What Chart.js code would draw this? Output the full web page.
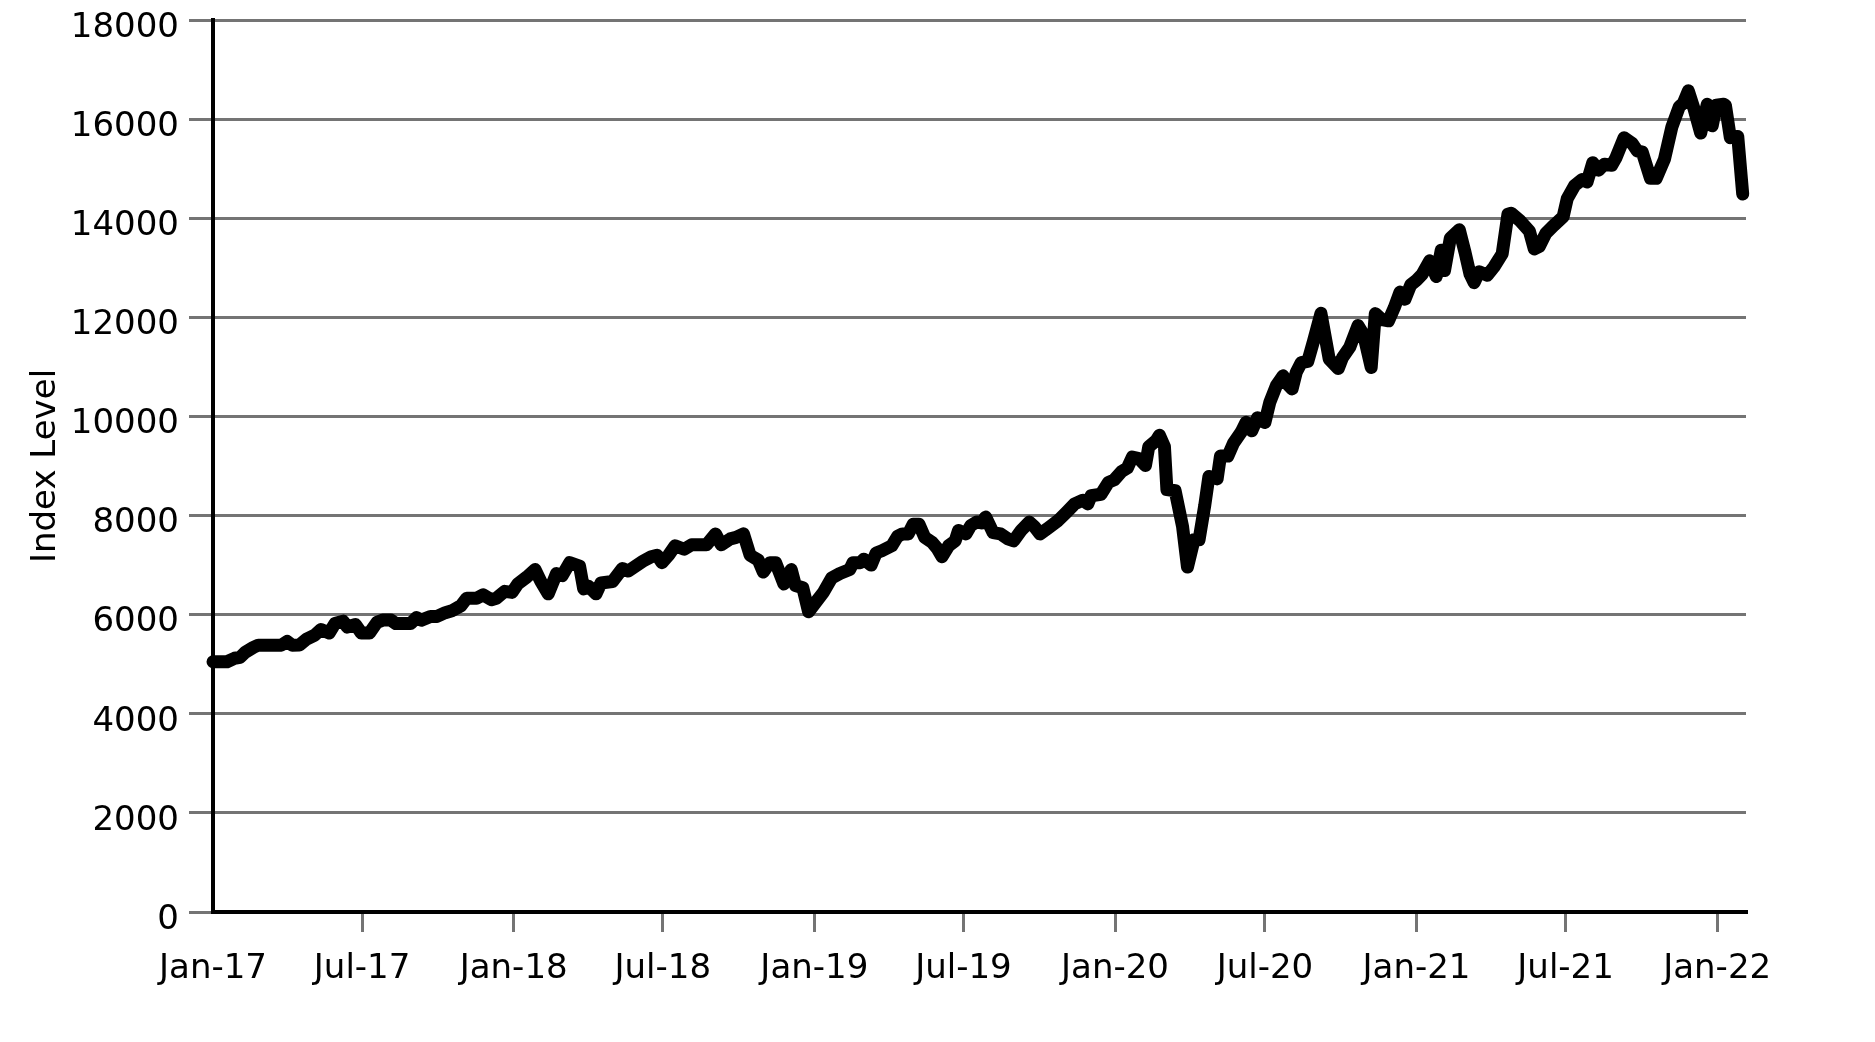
<!DOCTYPE html>
<html>
<head>
<meta charset="utf-8">
<script src="https://cdn.jsdelivr.net/npm/chart.js@4"></script>
<style>
  html, body { margin: 0; padding: 0; background: #fff; }
  #wrap { width: 1875px; height: 1042px; }
</style>
</head>
<body>
<div id="wrap"><canvas id="myChart" width="1875" height="1042"></canvas></div>
<script>
// weekly-ish index readings
const dates = [
  '2017-01-01','2017-01-18','2017-01-27','2017-02-03','2017-02-09','2017-02-19','2017-02-25','2017-03-25',
  '2017-04-01','2017-04-07','2017-04-16','2017-04-24','2017-05-04','2017-05-12','2017-05-22','2017-05-29',
  '2017-06-08','2017-06-13','2017-06-23','2017-06-30','2017-07-10','2017-07-19','2017-07-26','2017-08-05',
  '2017-08-11','2017-08-29','2017-09-05','2017-09-11','2017-09-22','2017-09-30','2017-10-10','2017-10-19',
  '2017-10-29','2017-11-05','2017-11-17','2017-11-25','2017-12-05','2017-12-11','2017-12-21','2017-12-30',
  '2018-01-06','2018-01-17','2018-01-27','2018-02-03','2018-02-12','2018-02-22','2018-03-01','2018-03-10',
  '2018-03-22','2018-03-27','2018-04-02','2018-04-11','2018-04-17','2018-05-01','2018-05-13','2018-05-20',
  '2018-05-29','2018-06-07','2018-06-17','2018-06-24','2018-06-30','2018-07-08','2018-07-16','2018-07-27',
  '2018-08-05','2018-08-23','2018-08-27','2018-09-03','2018-09-10','2018-09-21','2018-09-28','2018-10-07',
  '2018-10-15','2018-10-25','2018-10-31','2018-11-08','2018-11-15','2018-11-25','2018-12-04','2018-12-09',
  '2018-12-18','2018-12-25','2019-01-03','2019-01-12','2019-01-22','2019-02-01','2019-02-13','2019-02-17',
  '2019-02-26','2019-03-02','2019-03-11','2019-03-17','2019-03-24','2019-04-05','2019-04-12','2019-04-18',
  '2019-04-25','2019-05-01','2019-05-08','2019-05-15','2019-05-24','2019-05-30','2019-06-05','2019-06-13',
  '2019-06-21','2019-06-25','2019-07-04','2019-07-10','2019-07-17','2019-07-23','2019-07-28','2019-08-06',
  '2019-08-15','2019-08-24','2019-08-31','2019-09-09','2019-09-19','2019-09-25','2019-10-02','2019-10-12',
  '2019-10-24','2019-11-03','2019-11-13','2019-11-23','2019-11-29','2019-12-03','2019-12-15','2019-12-24',
  '2019-12-31','2020-01-09','2020-01-16','2020-01-22','2020-01-30','2020-02-07','2020-02-11','2020-02-20',
  '2020-02-24','2020-03-01','2020-03-04','2020-03-14','2020-03-23','2020-03-29','2020-04-06','2020-04-12',
  '2020-04-19','2020-04-24','2020-05-04','2020-05-08','2020-05-17','2020-05-24','2020-06-02','2020-06-08',
  '2020-06-15','2020-06-22','2020-07-01','2020-07-07','2020-07-15','2020-07-23','2020-07-27','2020-08-03',
  '2020-08-08','2020-08-14','2020-08-22','2020-08-29','2020-09-07','2020-09-17','2020-09-28','2020-10-03',
  '2020-10-12','2020-10-22','2020-10-29','2020-11-07','2020-11-12','2020-11-20','2020-11-28','2020-12-05',
  '2020-12-12','2020-12-18','2020-12-25','2021-01-01','2021-01-08','2021-01-17','2021-01-25','2021-01-31',
  '2021-02-04','2021-02-11','2021-02-22','2021-03-01','2021-03-07','2021-03-12','2021-03-18','2021-03-28',
  '2021-04-05','2021-04-15','2021-04-22','2021-04-26','2021-05-06','2021-05-18','2021-05-24','2021-05-30',
  '2021-06-07','2021-06-17','2021-06-28','2021-07-03','2021-07-12','2021-07-21','2021-07-27','2021-08-03',
  '2021-08-10','2021-08-17','2021-08-26','2021-08-31','2021-09-10','2021-09-20','2021-09-26','2021-10-02',
  '2021-10-12','2021-10-19','2021-10-29','2021-11-07','2021-11-16','2021-11-21','2021-11-27','2021-12-04',
  '2021-12-12','2021-12-20','2021-12-26','2021-12-31','2022-01-09','2022-01-11','2022-01-17','2022-01-26',
  '2022-02-01'
];
const values = [
  5050, 5050, 5120, 5140, 5240, 5340, 5385, 5385,
  5460, 5385, 5390, 5500, 5580, 5700, 5630, 5820,
  5870, 5750, 5800, 5630, 5630, 5845, 5890, 5890,
  5820, 5820, 5940, 5890, 5965, 5965, 6040, 6085,
  6180, 6330, 6330, 6400, 6300, 6330, 6470, 6450,
  6620, 6760, 6910, 6670, 6420, 6830, 6790, 7050,
  6980, 6520, 6570, 6420, 6640, 6670, 6930, 6880,
  6980, 7080, 7170, 7200, 7050, 7200, 7390, 7320,
  7410, 7410, 7490, 7630, 7410, 7530, 7560, 7630,
  7200, 7100, 6860, 7050, 7050, 6620, 6910, 6590,
  6545, 6060, 6255, 6450, 6740, 6830, 6910, 7050,
  7050, 7120, 7000, 7245, 7290, 7390, 7580, 7630,
  7630, 7825, 7825, 7560, 7460, 7340, 7170, 7390,
  7490, 7700, 7630, 7800, 7870, 7850, 7970, 7655,
  7630, 7530, 7490, 7700, 7870, 7780, 7630, 7750,
  7900, 8065, 8235, 8310, 8235, 8400, 8430, 8670,
  8720, 8890, 8960, 9180, 9150, 9010, 9390, 9515,
  9620, 9390, 8525, 8500, 7780, 6960, 7510, 7510,
  8210, 8790, 8740, 9200, 9200, 9465, 9680, 9880,
  9710, 9975, 9880, 10290, 10625, 10820, 10675, 10555,
  10890, 11085, 11110, 11520, 12080, 11160, 10965, 11180,
  11400, 11835, 11640, 10990, 12075, 11955, 11930, 12195,
  12510, 12365, 12655, 12750, 12870, 13140, 12825, 13355,
  12945, 13595, 13765, 13305, 12870, 12700, 12920, 12850,
  13015, 13280, 14080, 14100, 13960, 13740, 13380, 13430,
  13695, 13860, 14030, 14395, 14660, 14780, 14730, 15120,
  14970, 15090, 15070, 15215, 15625, 15505, 15360, 15335,
  14805, 14805, 15190, 15840, 16250, 16325, 16570, 16205,
  15720, 16300, 15865, 16280, 16300, 16280, 15625, 15650,
  14490
];

const tickDates = ['2017-01-01','2017-07-01','2018-01-01','2018-07-01','2019-01-01','2019-07-01',
  '2020-01-01','2020-07-01','2021-01-01','2021-07-01','2022-01-01'];
const tickLabels = ['Jan-17','Jul-17','Jan-18','Jul-18','Jan-19','Jul-19',
  'Jan-20','Jul-20','Jan-21','Jul-21','Jan-22'];
const xEndDate = '2022-02-05';
const yTicks = [0, 2000, 4000, 6000, 8000, 10000, 12000, 14000, 16000, 18000];

const startMs = Date.UTC(2017, 0, 1);
function toDay(s) {
  const p = s.split('-');
  return (Date.UTC(+p[0], +p[1] - 1, +p[2]) - startMs) / 86400000;
}

const points = dates.map((d, i) => ({ x: toDay(d), y: values[i] }));
const tickDays = tickDates.map(toDay);
const gridGrey = '#747474';

Chart.defaults.font.family = '"DejaVu Sans", sans-serif';
Chart.defaults.font.size = 34;
Chart.defaults.color = '#000';

var ctx = document.getElementById('myChart');
var myChart = new Chart(ctx, {
  type: 'line',
  data: {
    datasets: [{
      data: points,
      borderColor: '#000',
      borderWidth: 13,
      pointRadius: 0,
      tension: 0,
      borderJoinStyle: 'round',
      borderCapStyle: 'round',
      clip: false,
    }],
  },
  options: {
    responsive: false,
    animation: false,
    layout: { padding: { left: 0, right: 129, top: 20, bottom: 0 } },
    plugins: {
      legend: { display: false },
      tooltip: { enabled: false },
    },
    scales: {
      x: {
        type: 'linear',
        min: 0,
        max: toDay(xEndDate),
        afterBuildTicks: (axis) => { axis.ticks = tickDays.map(v => ({ value: v })); },
        afterFit: (s) => { s.height = 130; },
        ticks: {
          autoSkip: false,
          maxRotation: 0,
          padding: 17,
          callback: (v, i) => tickLabels[i],
        },
        grid: {
          drawOnChartArea: false,
          tickLength: 20,
          lineWidth: 3,
          color: (c) => c.index === 0 ? 'rgba(0,0,0,0)' : gridGrey,
        },
        border: { color: '#000', width: 4 },
      },
      y: {
        min: 0,
        max: 18000,
        afterBuildTicks: (axis) => { axis.ticks = yTicks.map(v => ({ value: v })); },
        afterFit: (s) => { s.width = 213; s.paddingTop = 0; s.paddingBottom = 0; },
        ticks: {
          padding: 10,
          labelOffset: 8,
          callback: (v) => String(v),
        },
        grid: { color: gridGrey, lineWidth: 3, tickLength: 24 },
        border: { color: '#000', width: 4 },
        title: {
          display: true,
          text: 'Index Level',
          font: { size: 34 },
          padding: { top: 26, bottom: 0 },
        },
      },
    },
  },
});
</script>
</body>
</html>
